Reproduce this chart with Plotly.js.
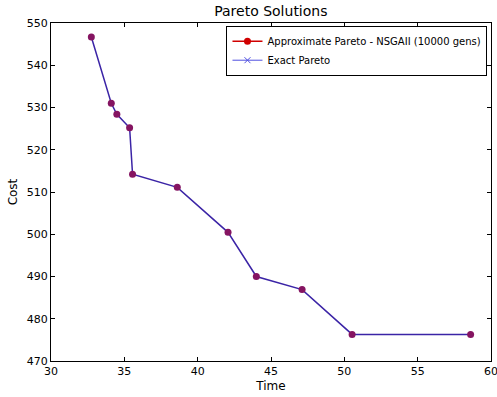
<!DOCTYPE html>
<html><head><meta charset="utf-8">
<script src="https://cdn.plot.ly/plotly-3.0.1.min.js"></script>
<style>html,body{margin:0;padding:0;background:#fff}#c{width:497px;height:397px}</style>
</head><body><div id="c"></div>
<script>
const time = [32.75, 34.11, 34.49, 35.36, 35.56, 38.61, 42.07, 44.0, 47.12, 50.53, 58.61];
const cost = [546.7, 531.0, 528.4, 525.2, 514.2, 511.1, 500.45, 490.0, 486.9, 476.3, 476.3];
const xTicks = [30, 35, 40, 45, 50, 55, 60];
const yTicks = [470, 480, 490, 500, 510, 520, 530, 540, 550];
const approxName = 'Approximate Pareto - NSGAII (10000 gens)';
const exactName = 'Exact Pareto';

const font = {family: 'DejaVu Sans', size: 11, color: '#000'};
const data = [
  {x: time, y: cost, mode: 'lines', line: {color: '#3b24a6', width: 1.5}, showlegend: false, hoverinfo: 'skip'},
  {x: time, y: cost, mode: 'markers', marker: {color: '#851461', size: 7, symbol: 'circle'}, showlegend: false},
  {x: [null], y: [null], name: approxName, mode: 'lines+markers', line: {color: '#d00000', width: 1.5}, marker: {color: '#d00000', size: 7, symbol: 'circle'}},
  {x: [null], y: [null], name: exactName, mode: 'lines+markers', line: {color: '#5050e0', width: 1}, marker: {color: '#5050e0', size: 6, symbol: 'x-thin', line: {color: '#5050e0', width: 1}}}
];
const axisCommon = {
  showgrid: false, zeroline: false, showline: true, mirror: 'ticks', linecolor: '#000', linewidth: 1,
  ticks: 'inside', ticklen: 4, tickcolor: '#000', tickfont: font, ticklabeloverflow: 'allow'
};
const layout = {
  width: 497, height: 397,
  margin: {l: 51, r: 6, t: 22.5, b: 35.5},
  paper_bgcolor: '#fff', plot_bgcolor: '#fff',
  title: {text: 'Pareto Solutions', font: {family: 'DejaVu Sans', size: 14, color: '#000'}, x: 0.545, xanchor: 'center', y: 0.985, yanchor: 'top'},
  xaxis: Object.assign({}, axisCommon, {range: [30, 60], tickvals: xTicks, ticktext: xTicks.map(String),
    title: {text: 'Time', font: {family: 'DejaVu Sans', size: 12, color: '#000'}, standoff: 4}}),
  yaxis: Object.assign({}, axisCommon, {range: [470, 550], tickvals: yTicks, ticktext: yTicks.map(String),
    title: {text: 'Cost', font: {family: 'DejaVu Sans', size: 12, color: '#000'}, standoff: 6}}),
  legend: {x: 0.992, xanchor: 'right', y: 0.992, yanchor: 'top', bgcolor: '#fff', bordercolor: '#000', borderwidth: 1,
    font: {family: 'DejaVu Sans', size: 10, color: '#000'}, tracegroupgap: 0, itemwidth: 30},
  showlegend: true
};
Plotly.newPlot('c', data, layout, {staticPlot: true, displayModeBar: false});
</script></body></html>
